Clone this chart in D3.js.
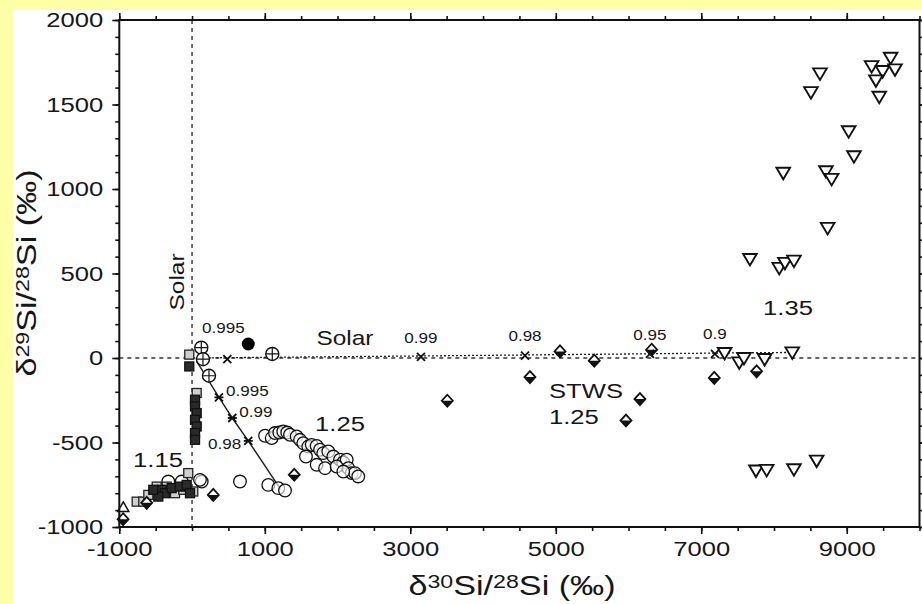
<!DOCTYPE html>
<html><head><meta charset="utf-8">
<script src="https://cdn.jsdelivr.net/npm/d3@7"></script>
<style>
body{margin:0;background:#fff}
svg{display:block}
text{font-family:"Liberation Sans",Arial,Helvetica,sans-serif;fill:#161616}
</style></head><body>
<svg id="chart" width="922" height="604"></svg>
<script>
// Tick values
const xTickLabels = [-1000, 1000, 3000, 5000, 7000, 9000];
const yTickLabels = [-1000, -500, 0, 500, 1000, 1500, 2000];

// Grains: [δ30Si, δ29Si] in permil
const circles125 = [[1003,-460],[1095,-474],[1140,-444],[1199,-441],[1254,-435],[1309,-441],[1346,-454],[1438,-464],
  [1484,-484],[1529,-504],[1598,-524],[1645,-514],[1713,-520],[1759,-543],[1804,-563],[1873,-553],[1942,-583],
  [2034,-602],[2079,-618],[2126,-602],[2148,-652],[2195,-681],[2240,-681],[2285,-701],[1566,-583],[1713,-632],
  [1828,-652],[1988,-642],[2079,-672],[659,-731],[1048,-751],[1186,-770],[1278,-784],
  [-327,-731],[-142,-731],[133,-731],[109,-721]];
const circlesPlus = [[127,61],[150,-7],[233,-105],[1103,24]];
const circlesFilled = [[773,83]];
const squaresLight = [[-761,-850],[-670,-850],[-601,-810],[-486,-761],[-348,-761],[-234,-800],[-120,-780],
  [-52,-681],[17,-790],[64,-207],[-38,20]];
const squaresDark = [[-417,-780],[-372,-800],[-280,-770],[-166,-761],[-74,-751],[-28,-800],[-464,-820],[-533,-780],
  [-38,-50],[41,-247],[41,-287],[64,-326],[41,-366],[64,-405],[41,-444],[41,-484]];
const diamonds = [[5058,39],[5529,-16],[4645,-113],[3509,-253],[6318,49],[6157,-243],[5965,-370],[7179,-118],
  [7761,-79],[1405,-691],[292,-810],[-948,-954],[-623,-857]];
const trianglesUp = [[-945,-881]];
const trianglesDown = [[9603,1777],[9342,1727],[9493,1698],[9663,1708],[9401,1643],[9447,1546],[8632,1684],
  [8508,1573],[9026,1342],[9099,1194],[8127,1096],[8714,1105],[8792,1060],[8737,770],[7669,586],[8072,533],
  [8150,563],[8274,576],[7321,30],[7522,-26],[7587,0],[7871,-6],[8251,33],[7752,-666],[7899,-662],[8274,-658],
  [8586,-607]];

// Mixing curves with fractions
const mixSolid = [[64,-20],[370,-233],[553,-355],[773,-490],[1223,-780]];
const mixSolidMarks = [[370,-233,"0.995"],[553,-355,"0.99"],[773,-490,"0.98"]];
const mixDotted = [[0,0],[485,2],[3147,12],[4577,18],[6295,25],[7188,29],[8251,33]];
const mixDottedMarks = [[485,-6,"0.995"],[3147,6,"0.99"],[4577,14,"0.98"],[6295,24,"0.95"],[7188,25,"0.9"]];

const svg = d3.select("#chart");
const W = 922, H = 604;
const STRETCH = 1.22;

// page background: yellow edge, white panel
svg.append("rect").attr("width", W).attr("height", H).attr("fill", "#ffffa8");
svg.append("rect").attr("x", 13).attr("y", 10).attr("width", W - 13).attr("height", H - 10).attr("fill", "#fff");

const x = d3.scaleLinear().domain([-1000, 10000]).range([119.3, 919.5]);
const y = d3.scaleLinear().domain([-1000, 2000]).range([527, 20]);

const plot = svg.append("g");

// reference lines at solar composition
plot.append("line").attr("x1", x(0)).attr("x2", x(0)).attr("y1", y(2000)).attr("y2", y(-1000))
  .attr("stroke", "#333").attr("stroke-width", 1.4).attr("stroke-dasharray", "4,4");
plot.append("line").attr("x1", x(-1000)).attr("x2", x(10000)).attr("y1", y(0)).attr("y2", y(0))
  .attr("stroke", "#333").attr("stroke-width", 1.4).attr("stroke-dasharray", "4,4");

// axes
function styleAxis(g) {
  g.select(".domain").remove();
  g.selectAll("line").attr("stroke", "#111").attr("stroke-width", 1.6);
}
const fmt = d => String(d);
const minorX = d3.range(-1000, 10001, 500);
const minorY = d3.range(-1000, 2001, 100);
svg.append("g").attr("transform", `translate(0,${y(-1000)})`)
  .call(d3.axisBottom(x).tickValues(minorX).tickSize(4).tickFormat("")).call(styleAxis);
svg.append("g").attr("transform", `translate(0,${y(2000)})`)
  .call(d3.axisTop(x).tickValues(minorX).tickSize(4).tickFormat("")).call(styleAxis);
svg.append("g").attr("transform", `translate(${x(-1000)},0)`)
  .call(d3.axisLeft(y).tickValues(minorY).tickSize(4).tickFormat("")).call(styleAxis);
svg.append("g").attr("transform", `translate(${x(10000)},0)`)
  .call(d3.axisRight(y).tickValues(minorY).tickSize(4).tickFormat("")).call(styleAxis);

const xb = svg.append("g").attr("transform", `translate(0,${y(-1000)})`)
  .call(d3.axisBottom(x).tickValues(xTickLabels).tickSize(7).tickPadding(7).tickFormat(fmt)).call(styleAxis);
svg.append("g").attr("transform", `translate(0,${y(2000)})`)
  .call(d3.axisTop(x).tickValues(xTickLabels).tickSize(7).tickFormat("")).call(styleAxis);
const yl = svg.append("g").attr("transform", `translate(${x(-1000)},0)`)
  .call(d3.axisLeft(y).tickValues(yTickLabels).tickSize(7).tickPadding(9).tickFormat(fmt)).call(styleAxis);
svg.append("g").attr("transform", `translate(${x(10000)},0)`)
  .call(d3.axisRight(y).tickValues(yTickLabels).tickSize(7).tickFormat("")).call(styleAxis);

[xb, yl].forEach(g => g.selectAll("text")
  .attr("font-size", 21).attr("fill", "#161616")
  .attr("font-family", '"Liberation Sans", Arial, sans-serif')
  .each(function () {
    const t = d3.select(this);
    const tx = +t.attr("x") || 0;
    t.attr("x", tx / STRETCH).attr("transform", `scale(${STRETCH},1)`);
  }));

// frame
svg.append("rect").attr("x", x(-1000)).attr("y", y(2000))
  .attr("width", x(10000) - x(-1000)).attr("height", y(-1000) - y(2000))
  .attr("fill", "none").attr("stroke", "#111").attr("stroke-width", 2);

// mixing lines
const line = d3.line().x(d => x(d[0])).y(d => y(d[1]));
plot.append("path").datum(mixDotted).attr("d", line).attr("fill", "none")
  .attr("stroke", "#222").attr("stroke-width", 1.3).attr("stroke-dasharray", "2,2");
plot.append("path").datum(mixSolid).attr("d", line).attr("fill", "none")
  .attr("stroke", "#222").attr("stroke-width", 1.4);

// symbols
const sym = plot.append("g");
sym.selectAll(".c125").data(circles125).join("circle")
  .attr("cx", d => x(d[0])).attr("cy", d => y(d[1])).attr("r", 6.3)
  .attr("fill", "#fff").attr("fill-opacity", 0.6).attr("stroke", "#111").attr("stroke-width", 1.3);

sym.selectAll(".sqL").data(squaresLight).join("rect")
  .attr("x", d => x(d[0]) - 4.5).attr("y", d => y(d[1]) - 4.5).attr("width", 9).attr("height", 9)
  .attr("fill", "#cfcfcf").attr("stroke", "#222").attr("stroke-width", 1.3);
sym.selectAll(".sqD").data(squaresDark).join("rect")
  .attr("x", d => x(d[0]) - 4.5).attr("y", d => y(d[1]) - 4.5).attr("width", 9).attr("height", 9)
  .attr("fill", "#2a2a2a").attr("stroke", "#111").attr("stroke-width", 1.3);

const cp = sym.selectAll(".cp").data(circlesPlus).join("g")
  .attr("transform", d => `translate(${x(d[0])},${y(d[1])})`);
cp.append("circle").attr("r", 6.5).attr("fill", "#fff").attr("stroke", "#111").attr("stroke-width", 1.4);
cp.append("path").attr("d", "M-6.5,0H6.5M0,-6.5V6.5").attr("stroke", "#111").attr("stroke-width", 1.2);

sym.selectAll(".cf").data(circlesFilled).join("circle")
  .attr("cx", d => x(d[0])).attr("cy", d => y(d[1])).attr("r", 6.5).attr("fill", "#000");

const dm = sym.selectAll(".dm").data(diamonds).join("g")
  .attr("transform", d => `translate(${x(d[0])},${y(d[1])})`);
dm.append("path").attr("d", "M0,-6L5.5,0L0,6L-5.5,0Z").attr("fill", "#fff").attr("stroke", "#111").attr("stroke-width", 1.8);
dm.append("path").attr("d", "M-5.5,0L5.5,0L0,6Z").attr("fill", "#111");

sym.selectAll(".tu").data(trianglesUp).join("path")
  .attr("transform", d => `translate(${x(d[0])},${y(d[1])})`)
  .attr("d", "M0,-5L5.5,4.5L-5.5,4.5Z").attr("fill", "#fff").attr("stroke", "#111").attr("stroke-width", 1.5);

sym.selectAll(".td").data(trianglesDown).join("path")
  .attr("transform", d => `translate(${x(d[0])},${y(d[1])})`)
  .attr("d", "M-6.8,-5L6.8,-5L0,6.5Z").attr("fill", "#fff").attr("stroke", "#111").attr("stroke-width", 1.9);

// mixing markers
const star = "M-4,-4L4,4M-4,4L4,-4M-4.5,0H4.5";
sym.selectAll(".ms").data(mixSolidMarks).join("path")
  .attr("transform", d => `translate(${x(d[0])},${y(d[1])})`)
  .attr("d", star).attr("stroke", "#111").attr("stroke-width", 1.8);
sym.selectAll(".md").data(mixDottedMarks).join("path")
  .attr("transform", d => `translate(${x(d[0])},${y(d[1])})`)
  .attr("d", "M-4,-4L4,4M-4,4L4,-4").attr("stroke", "#111").attr("stroke-width", 1.8);

// text helper with the wide letterforms used throughout
function label(px, py, str, size, anchor, rotate) {
  const g = svg.append("g").attr("transform", `translate(${px},${py})` + (rotate ? ` rotate(${rotate})` : ""));
  const t = g.append("text").attr("transform", `scale(${STRETCH},1)`)
    .attr("font-size", size).attr("text-anchor", anchor || "start").attr("dominant-baseline", "middle");
  t.text(str);
  return t;
}

mixSolidMarks.forEach((d, i) => {
  if (i < 2) label(x(d[0]) + 7, y(d[1]) - 5, d[2], 14, "start");
  else label(x(d[0]) - 7, y(d[1]) + 4, d[2], 14, "end");
});
mixDottedMarks.forEach((d, i) => {
  label(x(d[0]) - (i === 0 ? 4 : 0), y(d[1]) - (i === 0 ? 30 : 18), d[2], 14, "middle");
});

label(x(0) - 13, y(450), "Solar", 20, "middle", -90);
label(x(2102), y(110), "Solar", 20, "middle");
label(x(2034), y(-400), "1.25", 21, "middle");
label(x(-468), y(-610), "1.15", 21, "middle");
label(x(8192), y(290), "1.35", 21, "middle");
label(x(4907), y(-205), "STWS", 21, "start");
label(x(4907), y(-355), "1.25", 21, "start");

// axis titles with superscript isotopes
function title(g, parts) {
  const t = g.append("text").attr("font-size", 28).attr("text-anchor", "middle")
    .attr("transform", `scale(${STRETCH},1)`);
  parts.forEach(p => {
    const s = t.append("tspan").text(p[0]);
    if (p[1]) s.attr("font-size", 19).attr("baseline-shift", "36%");
  });
  return t;
}
title(svg.append("g").attr("transform", "translate(512,595)"),
  [["δ"], ["30", 1], ["Si/"], ["28", 1], ["Si (‰)"]]);
title(svg.append("g").attr("transform", "translate(36,273) rotate(-90)"),
  [["δ"], ["29", 1], ["Si/"], ["28", 1], ["Si (‰)"]]);
</script>
</body></html>
